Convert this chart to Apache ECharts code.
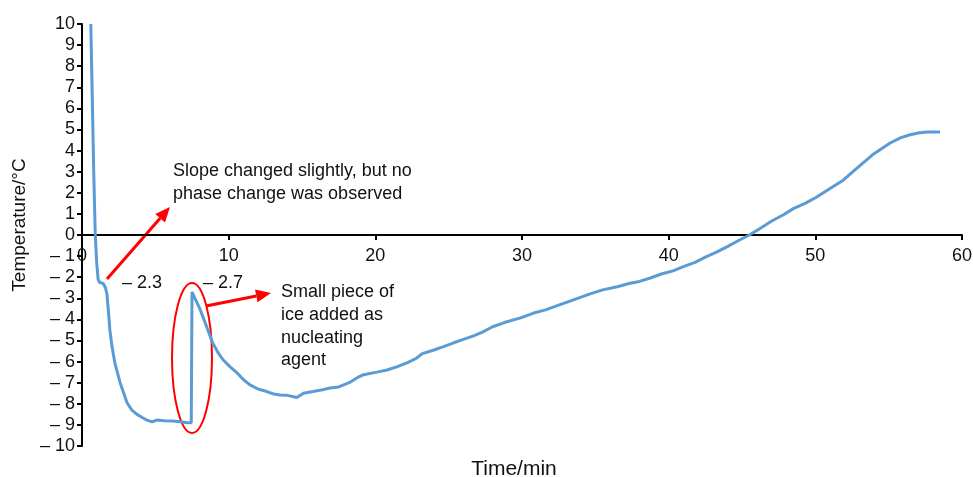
<!DOCTYPE html>
<html>
<head>
<meta charset="utf-8">
<script src="https://cdn.jsdelivr.net/npm/echarts@6/dist/echarts.min.js"></script>
<style>
  html, body { margin: 0; padding: 0; background: #fff; }
  #main { width: 973px; height: 477px; }
</style>
</head>
<body>
<div id="main"></div>
<script>
// time in minutes, temperature in °C
var timeMin = [0.6, 0.7, 0.8, 0.9, 1.0, 1.1, 1.2, 1.45, 1.6, 1.7, 1.8, 1.9, 2.05, 2.25, 2.6, 3.07, 3.4, 3.75, 4.1, 4.43,
  4.77, 5.1, 5.6, 6.2, 6.7, 7.2, 7.45, 7.5, 7.7, 8.04, 8.5, 8.9, 9.3, 9.6, 10.1, 10.6, 11.0, 11.45, 12.0, 12.6,
  13.0, 13.5, 14.0, 14.65, 15.1, 15.75, 16.3, 16.9, 17.5, 18.3, 18.8, 19.2, 20.1, 20.8, 21.5, 22.2, 22.8, 23.2, 24.0, 24.6,
  25.3, 26.0, 26.7, 27.3, 28.0, 28.8, 29.9, 30.8, 31.6, 32.6, 33.6, 34.6, 35.5, 36.5, 37.3, 38.0, 38.7, 39.5, 40.3, 41.0,
  41.8, 42.5, 43.3, 44.0, 44.8, 45.5, 46.2, 47.0, 47.8, 48.5, 49.3, 50.1, 51.0, 51.9, 52.8, 53.9, 55.1, 55.8, 56.4, 57.0,
  57.6, 58.5];
var tempC = [10, 6.5, 3, 0.1, -1.3, -2.1, -2.25, -2.3, -2.5, -2.8, -3.6, -4.5, -5.3, -6.1, -7.0, -7.95, -8.3, -8.5, -8.65, -8.77,
  -8.86, -8.77, -8.8, -8.82, -8.85, -8.9, -8.9, -2.7, -3.0, -3.5, -4.35, -5.1, -5.6, -5.9, -6.25, -6.55, -6.85, -7.1, -7.3, -7.42,
  -7.52, -7.58, -7.6, -7.7, -7.5, -7.42, -7.35, -7.25, -7.2, -6.97, -6.75, -6.62, -6.5, -6.4, -6.24, -6.05, -5.84, -5.62, -5.45, -5.3,
  -5.12, -4.95, -4.78, -4.6, -4.35, -4.15, -3.93, -3.7, -3.55, -3.3, -3.05, -2.8, -2.6, -2.45, -2.3, -2.2, -2.05, -1.85, -1.7, -1.5,
  -1.3, -1.05, -0.8, -0.55, -0.25, 0, 0.3, 0.65, 0.95, 1.25, 1.5, 1.8, 2.2, 2.6, 3.15, 3.8, 4.36, 4.6, 4.74, 4.83,
  4.88, 4.88];

var noteSlope = ['Slope changed slightly, but no', 'phase change was observed'];
var noteIce = ['Small piece of', 'ice added as', 'nucleating', 'agent'];
var lowLabels = ['\u2013 2.3', '\u2013 2.7'];

var FONT = 'Liberation Sans, Arial, sans-serif';

function arrow(x1, y1, x2, y2) {
  var dx = x2 - x1, dy = y2 - y1;
  var len = Math.sqrt(dx * dx + dy * dy);
  var ux = dx / len, uy = dy / len;
  var hl = 15, hw = 6.5;
  var bx = x2 - ux * hl, by = y2 - uy * hl;
  return [
    { type: 'line', shape: { x1: x1, y1: y1, x2: bx, y2: by }, style: { stroke: '#ff0000', lineWidth: 3 } },
    { type: 'polygon', shape: { points: [[x2, y2], [bx - uy * hw, by + ux * hw], [bx + uy * hw, by - ux * hw]] },
      style: { fill: '#ff0000' } }
  ];
}

var chart = echarts.init(document.getElementById('main'));

var graphics = [];
graphics = graphics.concat(arrow(107, 279, 170, 207));
graphics = graphics.concat(arrow(206, 306, 271, 293));
graphics.push({
  type: 'ellipse',
  shape: { cx: 192, cy: 358, rx: 20, ry: 75 },
  style: { fill: 'none', stroke: '#ff0000', lineWidth: 2 }
});
graphics.push({
  type: 'text', left: 173, top: 160,
  style: { text: noteSlope.join('\n'), font: '18px ' + FONT, fill: '#111', lineHeight: 23 }
});
graphics.push({
  type: 'text', left: 281, top: 281,
  style: { text: noteIce.join('\n'), font: '18px ' + FONT, fill: '#111', lineHeight: 22.7 }
});
graphics.push({
  type: 'text', left: 122, top: 274,
  style: { text: lowLabels[0], font: '18px ' + FONT, fill: '#111' }
});
graphics.push({
  type: 'text', left: 203, top: 274,
  style: { text: lowLabels[1], font: '18px ' + FONT, fill: '#111' }
});

chart.setOption({
  animation: false,
  textStyle: { fontFamily: FONT },
  grid: { left: 82, right: 11, top: 24, bottom: 31, containLabel: false, outerBoundsMode: 'none' },
  xAxis: {
    type: 'value',
    min: 0, max: 60, interval: 10,
    offset: -211,
    name: 'Time/min',
    nameLocation: 'middle',
    nameGap: 224,
    nameTextStyle: { fontSize: 21, color: '#111', padding: [0, 16, 0, 0] },
    axisLine: { onZero: false, lineStyle: { color: '#000', width: 2 } },
    axisTick: { length: 5, lineStyle: { color: '#000', width: 2 } },
    axisLabel: { fontSize: 18, color: '#111', margin: 12 },
    splitLine: { show: false }
  },
  yAxis: {
    type: 'value',
    min: -10, max: 10, interval: 1,
    name: 'Temperature/\u00b0C',
    nameLocation: 'middle',
    nameGap: 49,
    nameTextStyle: { fontSize: 19, color: '#111', padding: [0, 0, 0, 20] },
    axisLine: { show: true, lineStyle: { color: '#000', width: 2 } },
    axisTick: { show: true, length: 5, lineStyle: { color: '#000', width: 2 } },
    axisLabel: {
      fontSize: 18, color: '#111', margin: 7,
      formatter: function (v) { return v < 0 ? '\u2013 ' + Math.abs(v) : String(v); }
    },
    splitLine: { show: false }
  },
  series: [{
    type: 'line',
    data: timeMin.map(function (t, i) { return [t, tempC[i]]; }),
    showSymbol: false,
    lineStyle: { color: '#5b9bd5', width: 3 },
    itemStyle: { color: '#5b9bd5' }
  }],
  graphic: graphics
});
</script>
</body>
</html>
